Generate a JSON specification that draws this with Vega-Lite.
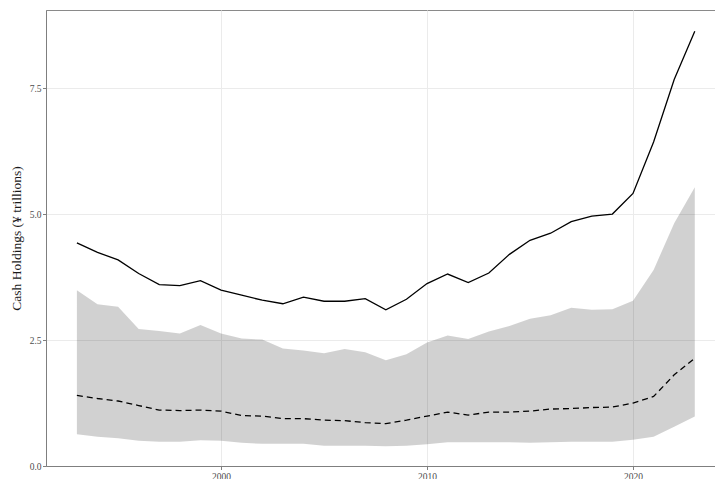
{
  "$schema": "https://vega.github.io/schema/vega-lite/v6.json",
  "autosize": "none",
  "padding": {"left": 46, "top": 10, "right": 0, "bottom": 13},
  "width": 670,
  "height": 456,
  "background": "white",
  "config": {
    "font": "Liberation Serif",
    "view": {"stroke": "#8a8a8a", "strokeWidth": 1},
    "axis": {
      "labelFont": "Liberation Serif",
      "titleFont": "Liberation Serif",
      "labelColor": "#4d4d4d",
      "labelFontSize": 9.5,
      "titleFontSize": 13.5,
      "titleFontWeight": "normal",
      "titleColor": "#1a1a1a",
      "gridColor": "#ebebeb",
      "gridWidth": 1,
      "domainColor": "#7f7f7f",
      "tickColor": "#7f7f7f",
      "tickSize": 3.5,
      "labelPadding": 1.5
    },
    "axisX": {"labelPadding": 1.5, "tickSize": 3.5}
  },
  "data": {
    "values": [
      {"year": 1993, "mean": 4.43, "median": 1.40, "p25": 0.63, "p75": 3.49},
      {"year": 1994, "mean": 4.24, "median": 1.34, "p25": 0.58, "p75": 3.21},
      {"year": 1995, "mean": 4.09, "median": 1.29, "p25": 0.55, "p75": 3.16},
      {"year": 1996, "mean": 3.82, "median": 1.20, "p25": 0.50, "p75": 2.72},
      {"year": 1997, "mean": 3.60, "median": 1.11, "p25": 0.48, "p75": 2.68},
      {"year": 1998, "mean": 3.58, "median": 1.10, "p25": 0.48, "p75": 2.63},
      {"year": 1999, "mean": 3.68, "median": 1.11, "p25": 0.51, "p75": 2.80},
      {"year": 2000, "mean": 3.49, "median": 1.09, "p25": 0.50, "p75": 2.63},
      {"year": 2001, "mean": 3.39, "median": 1.00, "p25": 0.46, "p75": 2.53},
      {"year": 2002, "mean": 3.29, "median": 0.99, "p25": 0.44, "p75": 2.51},
      {"year": 2003, "mean": 3.22, "median": 0.94, "p25": 0.44, "p75": 2.33},
      {"year": 2004, "mean": 3.35, "median": 0.94, "p25": 0.44, "p75": 2.29},
      {"year": 2005, "mean": 3.27, "median": 0.91, "p25": 0.40, "p75": 2.24},
      {"year": 2006, "mean": 3.27, "median": 0.90, "p25": 0.40, "p75": 2.32},
      {"year": 2007, "mean": 3.32, "median": 0.86, "p25": 0.40, "p75": 2.26},
      {"year": 2008, "mean": 3.10, "median": 0.84, "p25": 0.39, "p75": 2.10},
      {"year": 2009, "mean": 3.31, "median": 0.91, "p25": 0.40, "p75": 2.22},
      {"year": 2010, "mean": 3.62, "median": 0.99, "p25": 0.43, "p75": 2.45},
      {"year": 2011, "mean": 3.81, "median": 1.07, "p25": 0.47, "p75": 2.59},
      {"year": 2012, "mean": 3.64, "median": 1.01, "p25": 0.47, "p75": 2.52},
      {"year": 2013, "mean": 3.83, "median": 1.07, "p25": 0.47, "p75": 2.67},
      {"year": 2014, "mean": 4.20, "median": 1.07, "p25": 0.47, "p75": 2.78},
      {"year": 2015, "mean": 4.48, "median": 1.09, "p25": 0.46, "p75": 2.92},
      {"year": 2016, "mean": 4.62, "median": 1.13, "p25": 0.47, "p75": 2.99},
      {"year": 2017, "mean": 4.85, "median": 1.14, "p25": 0.48, "p75": 3.14},
      {"year": 2018, "mean": 4.96, "median": 1.16, "p25": 0.48, "p75": 3.10},
      {"year": 2019, "mean": 5.00, "median": 1.17, "p25": 0.48, "p75": 3.11},
      {"year": 2020, "mean": 5.41, "median": 1.25, "p25": 0.52, "p75": 3.28},
      {"year": 2021, "mean": 6.43, "median": 1.38, "p25": 0.58, "p75": 3.89},
      {"year": 2022, "mean": 7.67, "median": 1.81, "p25": 0.78, "p75": 4.82},
      {"year": 2023, "mean": 8.63, "median": 2.14, "p25": 0.98, "p75": 5.53}
    ]
  },
  "encoding": {
    "x": {
      "field": "year",
      "type": "quantitative",
      "scale": {"domain": [1991.5, 2024.03], "nice": false, "zero": false},
      "axis": {"values": [2000, 2010, 2020], "format": "d", "title": null, "grid": true}
    }
  },
  "layer": [
    {
      "mark": {"type": "area", "color": "black", "opacity": 0.18},
      "encoding": {
        "y": {
          "field": "p25",
          "type": "quantitative",
          "scale": {"domain": [0, 9.05], "nice": false},
          "axis": {
            "values": [0, 2.5, 5, 7.5],
            "format": ".1f",
            "title": "Cash Holdings (¥ trillions)",
            "grid": true,
            "titlePadding": 6
          }
        },
        "y2": {"field": "p75"}
      }
    },
    {
      "mark": {"type": "line", "color": "black", "strokeWidth": 1.3},
      "encoding": {"y": {"field": "mean", "type": "quantitative"}}
    },
    {
      "mark": {"type": "line", "color": "black", "strokeWidth": 1.3, "strokeDash": [6, 4]},
      "encoding": {"y": {"field": "median", "type": "quantitative"}}
    }
  ]
}
